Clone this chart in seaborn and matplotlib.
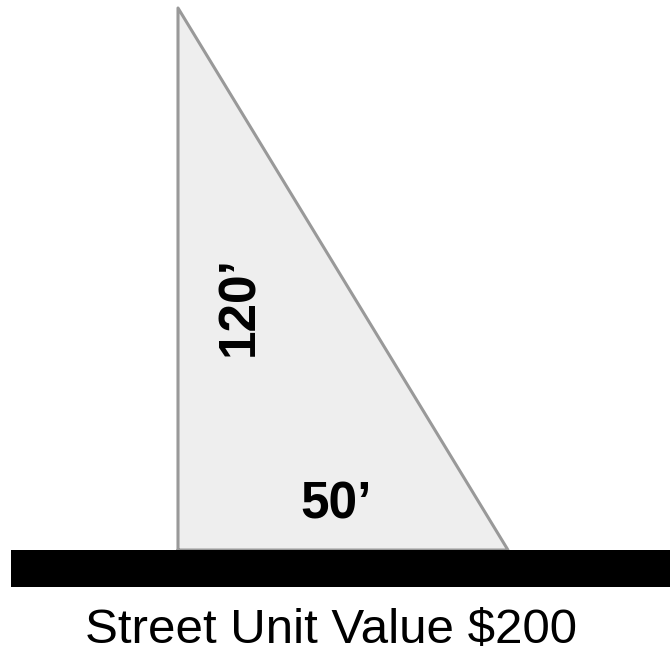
import matplotlib
matplotlib.use("Agg")
import matplotlib.pyplot as plt
import seaborn as sns
import pandas as pd

# lot dimensions (feet) and street value
depth_ft = 120
frontage_ft = 50
street_value = 200

# triangle lot: corner at the street, back corner, far street corner
lot = pd.DataFrame({
    "x": [0, 0, frontage_ft, 0],
    "y": [0, depth_ft, 0, 0],
})

sns.set_theme(style="white")
plt.rcParams["font.family"] = ["Liberation Sans", "DejaVu Sans"]

fig = plt.figure(figsize=(6.7, 6.54), dpi=100)
ax = fig.add_axes([0, 0, 1, 1])

# scales chosen so the drawing matches the reference layout
ax.set_xlim(-26.97, 74.55)
ax.set_ylim(-23.02, 121.77)
ax.axis("off")

ax.fill(lot["x"], lot["y"], color="#eeeeee", zorder=1)
sns.lineplot(data=lot, x="x", y="y", sort=False, estimator=None,
             color="#999999", linewidth=2.2, ax=ax, zorder=2)

# street strip
ax.fill_between([-25.3, 74.55], -8.2, 0, color="black", zorder=3, linewidth=0)

ax.text(9.4, 54.0, f"{depth_ft}\u2019", rotation=90, fontsize=37, fontweight="bold",
        ha="center", va="center", color="black")
ax.text(23.9, 9.9, f"{frontage_ft}\u2019", fontsize=37, fontweight="bold",
        ha="center", va="center", color="black")
ax.text(23.2, -17.8, f"Street Unit Value ${street_value}", fontsize=35.5,
        ha="center", va="center", color="black")

fig.savefig("out.png", dpi=100)
